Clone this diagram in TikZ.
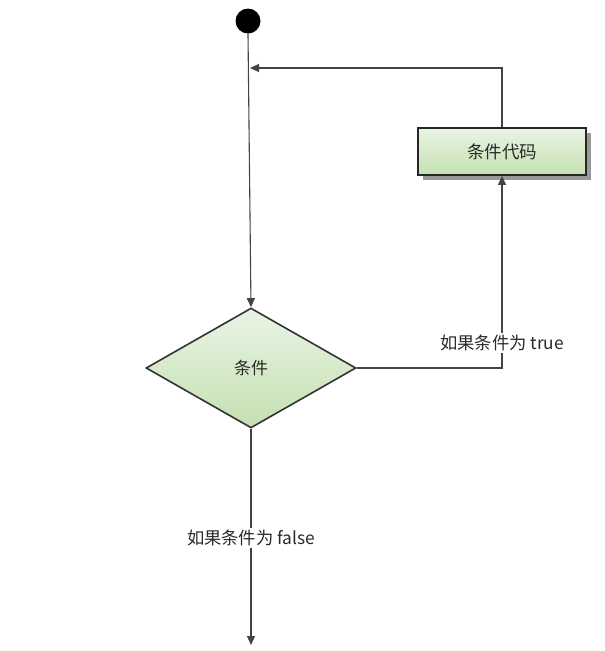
\documentclass[tikz,border=0pt]{standalone}
\usepackage{fontspec}
\setmainfont{Noto Sans CJK SC}
\usetikzlibrary{arrows.meta,shapes.geometric,shadows}
\definecolor{ln}{HTML}{444444}
\definecolor{gtop}{HTML}{E9F4E4}
\definecolor{gbot}{HTML}{C4E0B2}
\definecolor{txt}{HTML}{2A2A2A}
\tikzset{
  conn/.style={draw=ln, line width=1.1pt, -{Triangle[length=9pt,width=8pt]}},
  stepbox/.style={draw=black!85, line width=1.8pt, top color=gtop, bottom color=gbot,
    minimum width=168pt, minimum height=47pt, inner sep=0pt, text=txt,
    font=\fontsize{17.5pt}{20pt}\selectfont,
    drop shadow={shadow xshift=5pt, shadow yshift=-5pt, fill=black!40, opacity=1}},
  decision/.style={diamond, draw=black!80, line width=1.6pt, top color=gtop, bottom color=gbot,
    minimum width=210pt, minimum height=120pt, inner sep=0pt, aspect=1.75, text=txt,
    font=\fontsize{17pt}{20pt}\selectfont},
  lbl/.style={fill=white, inner sep=2pt, text=txt, font=\fontsize{17.3pt}{20pt}\selectfont},
  startdot/.style={circle, fill=black, minimum size=25pt, inner sep=0pt}
}
\begin{document}
\begin{tikzpicture}[x=1pt,y=-1pt]
\useasboundingbox (0,0) rectangle (605,651);
\node[startdot] (start) at (248,21) {};
\node[stepbox] (code) at (502,151.5) {条件代码};
\node[decision] (cond) at (251,368) {条件};
\coordinate (join) at (250,68);
\coordinate (corner1) at (502,68);
\coordinate (corner2) at (502,368);
\coordinate (end) at (251,645);
\draw[conn] (start.south) -- (cond.north);
\draw[conn] (code.north) -- (corner1) -- (join);
\draw[conn] (cond.east) -- (corner2) -- (code.south);
\draw[conn] (cond.south) -- (end);
\node[lbl] (ltrue) at (502,343) {如果条件为 true};
\node[lbl] (lfalse) at (251,538) {如果条件为 false};
\end{tikzpicture}
\end{document}
